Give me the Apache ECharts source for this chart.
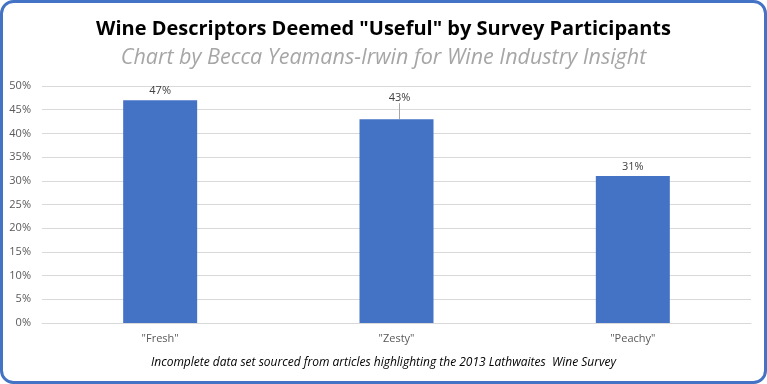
<!DOCTYPE html>
<html><head><meta charset="utf-8">
<script src="https://cdn.jsdelivr.net/npm/echarts@6/dist/echarts.min.js"></script>
<style>html,body{margin:0;padding:0;background:#fff}#c{width:767px;height:384px}</style>
</head><body><div id="c"></div>
<script>
const categories = ['"Fresh"', '"Zesty"', '"Peachy"'];
const values = [47, 43, 31];
const yTicks = { min: 0, max: 50, interval: 5 };
const titleText = 'Wine Descriptors Deemed "Useful" by Survey Participants';
const subtitleText = 'Chart by Becca Yeamans-Irwin for Wine Industry Insight';
const footnoteText = 'Incomplete data set sourced from articles highlighting the 2013 Lathwaites  Wine Survey';

const chart = echarts.init(document.getElementById('c'));
const font = "'Open Sans','Noto Sans',sans-serif";
const seriesData = values.map(function (v, i) {
  return i === 1 ? { value: v, labelLine: { show: true } } : { value: v };
});
chart.setOption({
  animation: false,
  backgroundColor: '#fff',
  title: [
    { text: titleText, left: 'center', top: 14, textStyle: { fontFamily: font, fontSize: 20, fontWeight: 'bold', color: '#000' } },
    { text: subtitleText, left: 'center', top: 42, textStyle: { fontFamily: font, fontSize: 21.5, fontStyle: 'italic', fontWeight: 'normal', color: '#a6a6a6' } },
    { text: footnoteText, left: 'center', top: 352, textStyle: { fontFamily: font, fontSize: 12, fontStyle: 'italic', fontWeight: 'normal', color: '#000' } }
  ],
  graphic: [{
    type: 'rect', silent: true, z: 100,
    shape: { x: 1.5, y: 1.5, width: 764, height: 381, r: 12 },
    style: { fill: 'none', stroke: '#4472C4', lineWidth: 3 }
  }],
  grid: { left: 42, right: 16, top: 86, bottom: 61 },
  xAxis: {
    type: 'category', data: categories,
    axisLine: { lineStyle: { color: '#d9d9d9' } },
    axisTick: { show: false },
    axisLabel: { fontFamily: font, fontSize: 11, color: '#595959', margin: 10 }
  },
  yAxis: {
    type: 'value', min: yTicks.min, max: yTicks.max, interval: yTicks.interval,
    axisLine: { show: false }, axisTick: { show: false },
    splitLine: { lineStyle: { color: '#d9d9d9' } },
    axisLabel: { formatter: '{value}%', fontFamily: font, fontSize: 11, color: '#595959', margin: 11 }
  },
  series: [{
    type: 'bar', data: seriesData, barWidth: 74,
    itemStyle: { color: '#4472C4' },
    label: { show: true, position: 'top', formatter: '{c}%', fontFamily: font, fontSize: 11, color: '#404040', distance: 4 },
    labelLayout: function (p) { return p.dataIndex === 1 ? { dy: -12, dx: 3 } : {}; },
    labelLine: { show: false, lineStyle: { color: '#a6a6a6', width: 1 } }
  }]
});
</script></body></html>
